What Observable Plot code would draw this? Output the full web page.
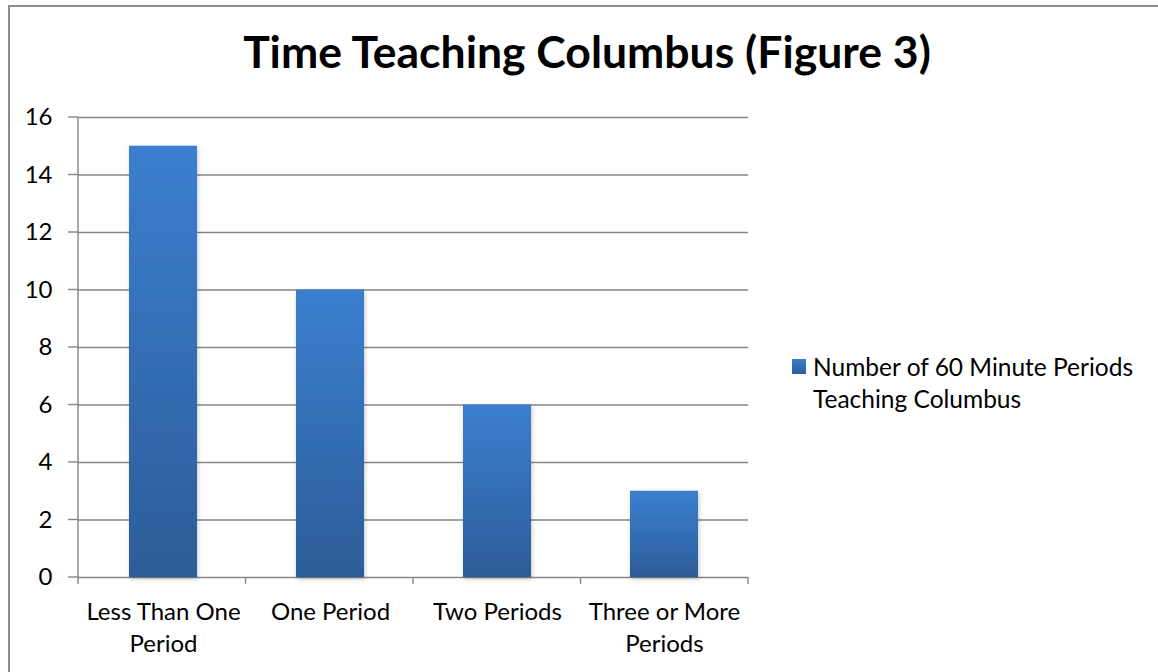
<!DOCTYPE html>
<html>
<head>
<meta charset="utf-8">
<script src="https://cdn.jsdelivr.net/npm/d3@7"></script>
<script src="https://cdn.jsdelivr.net/npm/@observablehq/plot@0.6"></script>
<style>
  html, body { margin: 0; padding: 0; background: #fff; }
  #wrap { position: relative; width: 1158px; height: 672px; overflow: hidden; font-family: Lato, "Open Sans", sans-serif; }
  #frame { position: absolute; left: 8px; top: 5px; width: 1300px; height: 800px; border: 2px solid #8c8c8c; box-sizing: border-box; }
  #title { position: absolute; left: 0; width: 1174px; top: 24px; text-align: center; font-weight: bold; font-size: 44.5px; color: #000; white-space: nowrap; }
  #chart { position: absolute; left: 0; top: 0; }
  #legend { position: absolute; left: 792px; top: 351px; font-size: 24.5px; line-height: 32px; color: #000; }
  #legend .sw { position: absolute; left: 0; top: 8px; width: 14px; height: 15px; background: linear-gradient(#3a7dcc, #2d5f9a); }
  #legend .tx { margin-left: 21px; white-space: nowrap; }
</style>
</head>
<body>
<div id="wrap">
  <div id="frame"></div>
  <div id="chart"></div>
  <div id="title">Time Teaching Columbus (Figure 3)</div>
  <div id="legend"><div class="sw"></div><div class="tx">Number of 60 Minute Periods<br>Teaching Columbus</div></div>
</div>
<script>
const categories = ["Less Than One Period", "One Period", "Two Periods", "Three or More Periods"];
const categoryLabels = ["Less Than One\nPeriod", "One Period", "Two Periods", "Three or More\nPeriods"];
const values = [15, 10, 6, 3];
const yTicks = [0, 2, 4, 6, 8, 10, 12, 14, 16];
const seriesName = "Number of 60 Minute Periods Teaching Columbus";

const data = categories.map((c, i) => ({category: c, value: values[i]}));
const labelOf = new Map(categories.map((c, i) => [c, categoryLabels[i]]));

const W = 1158, H = 672;
const mL = 78, mR = 410, mT = 117, mB = 95;
const gray = "#868686";

const defs = () => {
  const g = d3.create("svg:g");
  const d = g.append("defs");
  const lg = d.append("linearGradient").attr("id", "barGrad").attr("x1", 0).attr("y1", 0).attr("x2", 0).attr("y2", 1);
  lg.append("stop").attr("offset", "0%").attr("stop-color", "#3b7fd0");
  lg.append("stop").attr("offset", "100%").attr("stop-color", "#2c5c98");
  const f = d.append("filter").attr("id", "shadow").attr("x", "-20%").attr("y", "-5%").attr("width", "140%").attr("height", "115%");
  f.append("feDropShadow").attr("dx", 1).attr("dy", 2).attr("stdDeviation", 2).attr("flood-color", "#000").attr("flood-opacity", 0.22);
  return g.node();
};

// axis line, y tick stubs and category boundary ticks, positioned with the plot's scales and frame
const axes = (index, scales, values, dims) => {
  const g = d3.create("svg:g").attr("stroke", gray).attr("stroke-width", 1.4).attr("fill", "none");
  const x0 = dims.marginLeft, x1 = dims.width - dims.marginRight;
  const yb = scales.y(0), yt = scales.y(16);
  yTicks.forEach(t => {
    g.append("line").attr("x1", x0 - 10).attr("x2", x0).attr("y1", scales.y(t)).attr("y2", scales.y(t));
  });
  g.append("line").attr("x1", x0).attr("x2", x0).attr("y1", yt).attr("y2", yb + 7);
  const stepW = (x1 - x0) / categories.length;
  for (let k = 1; k <= categories.length; k++) {
    const xe = x0 + k * stepW;
    g.append("line").attr("x1", xe).attr("x2", xe).attr("y1", yb).attr("y2", yb + 7);
  }
  return g.node();
};

const plot = Plot.plot({
  width: W,
  height: H,
  marginLeft: mL,
  marginRight: mR,
  marginTop: mT,
  marginBottom: mB,
  style: { fontFamily: "Lato, 'Open Sans', sans-serif", fontSize: "24px", color: "#000", background: "transparent", overflow: "visible" },
  x: { domain: categories, paddingInner: 0.594, paddingOuter: 0.297, label: null, axis: null },
  y: { domain: [0, 16], label: null, axis: null },
  marks: [
    defs,
    Plot.ruleY(yTicks, { stroke: gray, strokeWidth: 1.4 }),
    axes,
    Plot.barY(data, { x: "category", y: "value", fill: "url(#barGrad)" }),
    Plot.text(yTicks, { y: d => d, text: d => String(d), textAnchor: "end", dx: -26, frameAnchor: "left", fill: "#000" }),
    Plot.text(data, { x: "category", text: d => labelOf.get(d.category), frameAnchor: "bottom", lineAnchor: "top", dy: 20, lineHeight: 1.33, fill: "#000" })
  ]
});

d3.select(plot).selectAll("g[aria-label='bar'] rect").attr("filter", "url(#shadow)");
document.getElementById("chart").appendChild(plot);
</script>
</body>
</html>
